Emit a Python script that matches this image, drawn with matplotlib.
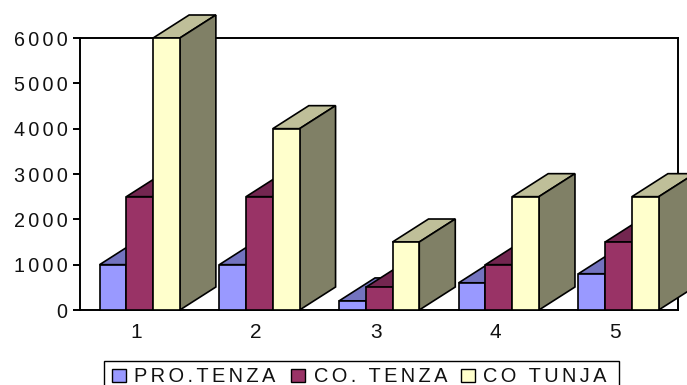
import matplotlib
matplotlib.use("Agg")
import matplotlib.pyplot as plt
from matplotlib.patches import Polygon, Rectangle

categories = ["1", "2", "3", "4", "5"]
series_names = ["PRO.TENZA", "CO. TENZA", "CO TUNJA"]
pro_tenza = [1000, 1000, 200, 600, 800]
co_tenza = [2500, 2500, 500, 1000, 1500]
co_tunja = [6000, 4000, 1500, 2500, 2500]
yticks = [0, 1000, 2000, 3000, 4000, 5000, 6000]

front_colors = ["#9999FF", "#993366", "#FFFFCC"]
top_colors = ["#7373BF", "#732650", "#BFBF99"]
side_colors = ["#4D4D80", "#4D1A33", "#808066"]

W, H = 687, 385
# narrow spaces open up the lettering
spaced = lambda s: "\u2006".join(s)

plt.rcParams["font.family"] = ["Liberation Sans", "DejaVu Sans"]
fig = plt.figure(figsize=(W / 100, H / 100), dpi=100)
ax = fig.add_axes([79.5 / W, (H - 310) / H, 598.5 / W, 272 / H])
ax.set_xlim(0, 5)
ax.set_ylim(0, 6000)
for s in ax.spines.values():
    s.set_linewidth(1.4)
    s.set_color("black")
    s.set_zorder(1)

bar_w = 0.2235
pad = 0.168
depth_x = 36 / 119.7
depth_y = 23 / 272 * 6000


def draw_bar(x, val, i):
    # top and side first, so the next bar's front covers them
    xr = x + bar_w
    top = [(x, val), (x + depth_x, val + depth_y), (xr + depth_x, val + depth_y), (xr, val)]
    side = [(xr, 0), (xr + depth_x, depth_y), (xr + depth_x, val + depth_y), (xr, val)]
    ax.add_patch(Polygon(top, fc=top_colors[i], ec="black", lw=1.2, clip_on=False, zorder=3))
    ax.add_patch(Polygon(side, fc=side_colors[i], ec="black", lw=1.2, clip_on=False, zorder=3))
    ax.add_patch(Rectangle((x, 0), bar_w, val, fc=front_colors[i], ec="black", lw=1.2,
                           clip_on=False, zorder=3))


for g in range(len(categories)):
    for i, vals in enumerate([pro_tenza, co_tenza, co_tunja]):
        draw_bar(g + pad + i * bar_w, vals[g], i)

ax.set_yticks(yticks)
ax.set_yticklabels([spaced(str(v)) for v in yticks], fontsize=14.2, color="#111111")
ax.set_xticks([g + 0.476 for g in range(len(categories))])
ax.set_xticklabels(categories, fontsize=15, color="#111111")
ax.tick_params(axis="y", length=5, width=1.4, pad=3.5)
ax.tick_params(axis="x", length=0, pad=9)


def px_rect(x0, y0, x1, y1, **kw):
    fig.add_artist(Rectangle((x0 / W, 1 - y1 / H), (x1 - x0) / W, (y1 - y0) / H,
                             transform=fig.transFigure, **kw))


# legend box runs off the bottom of the figure
px_rect(103.5, 360.5, 618.5, 395, fc="white", ec="black", lw=1.0)
handle_x = [112, 291, 461]
text_x = [134, 314, 483]
for i, name in enumerate(series_names):
    px_rect(handle_x[i], 369, handle_x[i] + 14, 382, fc=front_colors[i], ec="black", lw=1.0)
    fig.text(text_x[i] / W, 1 - 382 / H, spaced(name), fontsize=14.4, color="#111111",
             ha="left", va="baseline")

fig.savefig("out.png", dpi=100)
